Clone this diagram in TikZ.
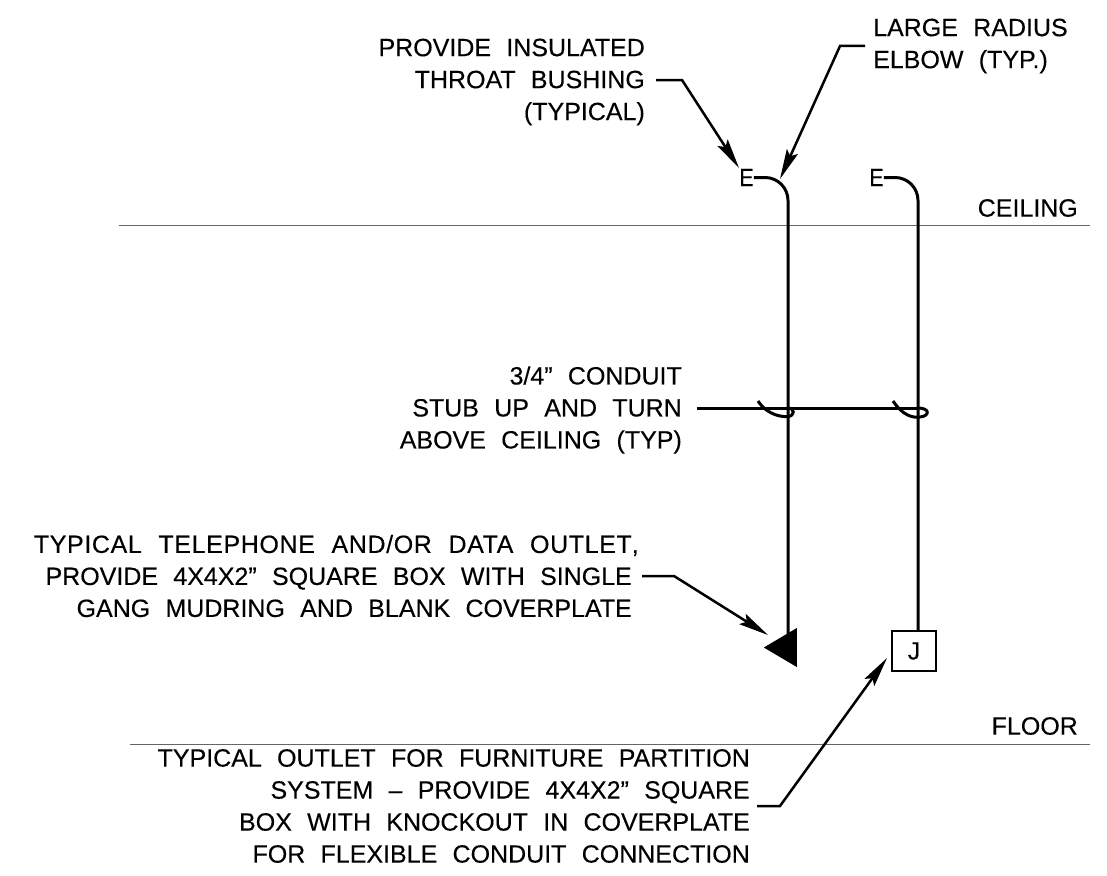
\documentclass[tikz,border=0pt]{standalone}
\usepackage{fontspec}
\setmainfont[LetterSpace=0,WordSpace=2.2,FakeBold=0.25]{Liberation Sans}
\usetikzlibrary{shapes.geometric}
\usetikzlibrary{arrows.meta}

\begin{document}
\begin{tikzpicture}[x=1pt,y=-1pt]
				\tikzstyle{every node}=[font=\fontsize{25}{32}\selectfont]
				\tikzstyle{note}=[anchor=east,align=right,inner xsep=11pt,inner ysep=0pt]
				\tikzstyle{level}=[anchor=east,inner sep=0pt]
				\tikzstyle{plane}=[line width=1pt,black!60]
				\tikzstyle{conduit}=[line width=3pt,rounded corners=23pt]
				\tikzstyle{leader}=[line width=2.5pt,-{Stealth[length=30pt,width=12pt,inset=5pt]}]
				\tikzstyle{bushing}=[inner sep=0pt,xscale=0.85]
				\tikzstyle{hook}=[line width=3pt]
				
				\useasboundingbox (0,0) rectangle (1107,875);
				
				\draw[plane] (119,225) -- (1090,225);
				\draw[plane] (130,744) -- (1090,744);
				\node[level] (ceiling) at (1078,208) {CEILING};
				\node[level] (floor) at (1078,726) {FLOOR};
				
				\node[bushing] (bushingA) at (746.5,177.5) {E};
				\node[bushing] (bushingB) at (876.5,177.5) {E};
				\node[fill,isosceles triangle,shape border rotate=180,isosceles triangle stretches,minimum height=33pt,minimum width=39pt,inner sep=0pt,anchor=lower side] (outlet) at (797,647.5) {};
				\node[draw,line width=2.5pt,minimum width=44pt,minimum height=40pt,inner sep=0pt] (jbox) at (914,651) {J};
				\coordinate (outlettop) at (788,640);
				
				\draw[conduit] (bushingA.east) -| (outlettop);
				\draw[conduit] (bushingB.east) -| (jbox.north-|918,0);
				
				\node[note] (throat) at (656,82) {PROVIDE INSULATED\\THROAT BUSHING\\(TYPICAL)};
				\node[note,anchor=west,align=left,inner xsep=8pt] (elbow) at (865,46) {LARGE RADIUS\\ELBOW (TYP.)};
				\node[note,inner xsep=15pt] (stub) at (697,410) {3/4” CONDUIT\\STUB UP AND TURN\\ABOVE CEILING (TYP)};
				\node[note,inner xsep=10pt] (teldata) at (642,576) {{\addfontfeature{LetterSpace=2.5}TYPICAL TELEPHONE AND/OR DATA OUTLET}\rlap{,}\\PROVIDE 4X4X2” SQUARE BOX WITH SINGLE\\GANG MUDRING AND BLANK COVERPLATE};
				\node[note,inner xsep=7pt] (partition) at (757,806) {TYPICAL OUTLET FOR FURNITURE PARTITION\\SYSTEM – PROVIDE 4X4X2” SQUARE\\BOX WITH KNOCKOUT IN COVERPLATE\\FOR FLEXIBLE CONDUIT CONNECTION};
				
				\draw[leader] ([yshift=2pt]throat.east) -- ++(26,0) -- (739,168);
				\draw[leader] (elbow.west) -- ++(-25,0) -- (780,179);
				\draw[leader] (teldata.east) -- ++(32,0) -- (768,635);
				\draw[leader] (partition.east) -- ++(23,0) -- (887,658);
				
				\draw[hook] ([yshift=2pt]stub.east) -- (918,408);
				\draw[hook] (758,401) .. controls (768,416) and (783,417) .. (788,416.5) .. controls (795,416) and (795,408) .. (788,408);
				\draw[hook] (893,401) .. controls (903,416) and (913,418) .. (920,417) .. controls (930,416) and (930,408) .. (918,408);
				
\end{tikzpicture}
\end{document}
